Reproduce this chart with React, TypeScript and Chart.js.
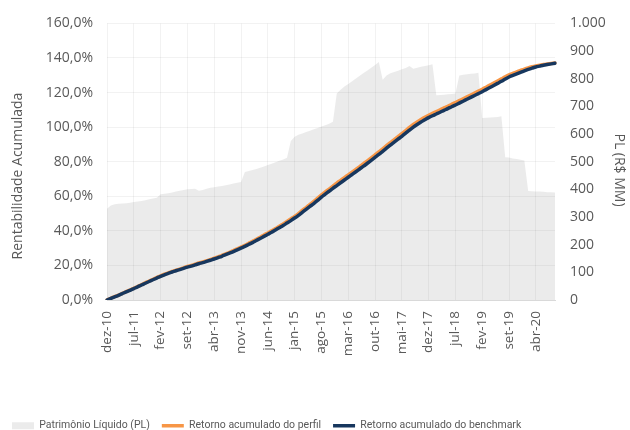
import { useEffect, useRef } from "react";
import { Chart, registerables } from "chart.js";

Chart.register(...registerables);

const MONTHS = ["jan", "fev", "mar", "abr", "mai", "jun", "jul", "ago", "set", "out", "nov", "dez"];

// Monthly categories: dez-10 ... set-20
const categories: string[] = [];
for (let i = 0; i < 118; i++) {
  const k = 11 + i;
  categories.push(`${MONTHS[k % 12]}-${String(10 + Math.floor(k / 12)).padStart(2, "0")}`);
}

// Patrimônio Líquido (R$ MM)
const plValues = [
  330, 342, 346, 348, 349, 350, 352, 354, 356, 358,
  361, 364, 367, 370, 382, 384, 386, 389, 392, 395,
  398, 400, 401, 402, 395, 398, 402, 406, 408, 410,
  412, 415, 418, 421, 424, 427, 463, 466, 470, 474,
  478, 483, 488, 493, 498, 503, 508, 514, 575, 590,
  597, 602, 607, 612, 617, 622, 627, 632, 637, 644,
  747, 760, 772, 781, 791, 801, 811, 821, 830, 840,
  850, 860, 796, 812, 820, 824, 829, 834, 839, 846,
  836, 840, 843, 846, 849, 852, 740, 741, 742, 744,
  745, 747, 812, 814, 816, 818, 819, 822, 658, 659,
  660, 661, 662, 664, 516, 515, 512, 510, 507, 504,
  394, 393, 392, 392, 391, 390, 390, 389,
];

// Retorno acumulado do perfil (%)
const perfilValues = [
  0, 1.0, 1.9, 2.8, 3.8, 4.8, 5.8, 6.8,
  7.8, 8.9, 9.9, 11.0, 12.0, 13.0, 14.0,
  14.9, 15.7, 16.5, 17.2, 17.9, 18.6, 19.4,
  20.0, 20.7, 21.4, 22.0, 22.7, 23.4, 24.2,
  25.0, 25.8, 26.7, 27.6, 28.6, 29.6, 30.6,
  31.6, 32.8, 33.9, 35.1, 36.3, 37.6, 38.8,
  40.0, 41.3, 42.7, 44.0, 45.4, 46.9, 48.4,
  50.0, 51.8, 53.5, 55.3, 57.0, 58.9, 60.8,
  62.5, 64.2, 65.9, 67.6, 69.2, 70.8, 72.4,
  74.0, 75.6, 77.2, 78.9, 80.5, 82.2, 84.0,
  85.7, 87.5, 89.3, 91.1, 92.8, 94.5, 96.2,
  98.0, 99.8, 101.5, 103.0, 104.4, 105.7, 106.9,
  108.0, 109.0, 110.0, 111.1, 112.1, 113.2, 114.2,
  115.3, 116.4, 117.5, 118.6, 119.7, 120.8, 121.9,
  123.1, 124.3, 125.5, 126.7, 127.9, 129.1, 130.2,
  131.1, 132.0, 132.8, 133.6, 134.3, 134.9, 135.4,
  135.8, 136.2, 136.5, 136.8, 137.1,
];

// Retorno acumulado do benchmark (%)
const benchmarkValues = [
  0, 0.9, 1.8, 2.7, 3.7, 4.7, 5.6, 6.6,
  7.6, 8.7, 9.7, 10.7, 11.7, 12.7, 13.7,
  14.6, 15.4, 16.2, 16.9, 17.6, 18.3, 19.0,
  19.6, 20.3, 21.0, 21.6, 22.3, 23.0, 23.7,
  24.5, 25.3, 26.2, 27.1, 28.0, 29.0, 30.0,
  31.0, 32.1, 33.2, 34.4, 35.6, 36.8, 38.0,
  39.2, 40.5, 41.8, 43.1, 44.5, 45.9, 47.4,
  49.0, 50.7, 52.4, 54.1, 55.8, 57.6, 59.5,
  61.2, 62.9, 64.6, 66.2, 67.8, 69.4, 71.0,
  72.6, 74.2, 75.8, 77.4, 79.1, 80.8, 82.5,
  84.2, 86.0, 87.8, 89.6, 91.3, 93.0, 94.7,
  96.5, 98.3, 100.0, 101.5, 102.9, 104.2, 105.5,
  106.6, 107.6, 108.6, 109.7, 110.7, 111.8, 112.8,
  113.9, 115.0, 116.1, 117.2, 118.3, 119.4, 120.5,
  121.7, 122.9, 124.1, 125.3, 126.5, 127.8, 129.0,
  129.9, 130.8, 131.7, 132.6, 133.4, 134.1, 134.8,
  135.3, 135.8, 136.2, 136.6, 137.0,
];

const LABEL_STEP = 7;
const TEXT = "#595959";
const TICK_FONT = "'Open Sans', sans-serif";
const PAD_BOTTOM = -11;

const axisTitles = {
  id: "axisTitles",
  afterDraw(chart: any) {
    const ctx = chart.ctx;
    ctx.save();
    ctx.fillStyle = TEXT;
    ctx.font = `14px ${TICK_FONT}`;
    ctx.textAlign = "center";
    ctx.textBaseline = "alphabetic";
    ctx.translate(22, 176);
    ctx.rotate(-Math.PI / 2);
    ctx.fillText("Rentabilidade Acumulada", 0, 0);
    ctx.restore();
    ctx.save();
    ctx.fillStyle = TEXT;
    ctx.font = `14px ${TICK_FONT}`;
    ctx.textAlign = "center";
    ctx.textBaseline = "alphabetic";
    ctx.translate(615, 170);
    ctx.rotate(Math.PI / 2);
    ctx.fillText("PL (R$ MM)", 0, 0);
    ctx.restore();
  },
};

export default function App() {
  const ref = useRef<HTMLCanvasElement | null>(null);
  useEffect(() => {
    if (!ref.current) return;
    const chart = new Chart(ref.current, {
      type: "line",
      data: {
        labels: categories,
        datasets: [
          {
            label: "Patrimônio Líquido (PL)",
            data: plValues,
            yAxisID: "y1",
            fill: "origin",
            backgroundColor: "rgba(0,0,0,0.08)",
            borderColor: "rgba(0,0,0,0)",
            borderWidth: 0,
            pointRadius: 0,
            pointStyle: "rect",
            tension: 0,
            order: 3,
          },
          {
            label: "Retorno acumulado do perfil",
            data: perfilValues,
            yAxisID: "y",
            borderColor: "#F79646",
            backgroundColor: "#F79646",
            borderWidth: 3.5,
            borderCapStyle: "round",
            borderJoinStyle: "round",
            pointRadius: 0,
            pointStyle: "line",
            fill: false,
            cubicInterpolationMode: "monotone",
            order: 2,
          },
          {
            label: "Retorno acumulado do benchmark",
            data: benchmarkValues,
            yAxisID: "y",
            borderColor: "#17375E",
            backgroundColor: "#17375E",
            borderWidth: 3.5,
            borderCapStyle: "round",
            borderJoinStyle: "round",
            pointRadius: 0,
            pointStyle: "line",
            fill: false,
            cubicInterpolationMode: "monotone",
            order: 1,
          },
        ],
      },
      options: {
        animation: false,
        responsive: false,
        layout: { padding: { top: 19, left: 0, right: 0, bottom: PAD_BOTTOM } },
        plugins: {
          tooltip: { enabled: false },
          legend: {
            position: "bottom",
            align: "start",
            labels: {
              usePointStyle: true,
              pointStyleWidth: 22,
              boxHeight: 7,
              padding: 12,
              color: TEXT,
              font: { family: "Roboto, sans-serif", size: 10.5 },
              sort: (a: any, b: any) => a.datasetIndex - b.datasetIndex,
            },
          },
        },
        scales: {
          x: {
            grid: { color: "rgba(0,0,0,0.05)", drawTicks: false },
            border: { display: true, color: "#d9d9d9", width: 1 },
            ticks: {
              autoSkip: false,
              minRotation: 90,
              maxRotation: 90,
              padding: 11,
              color: TEXT,
              font: { family: TICK_FONT, size: 13.5 },
              callback: (_v: any, i: number) => (i % LABEL_STEP === 0 ? categories[i] : null),
            },
            afterFit: (scale: any) => {
              const lh = scale.chart.legend ? scale.chart.legend.height : 0;
              scale.height = 430 - PAD_BOTTOM - lh - 300;
            },
          },
          y: {
            position: "left",
            min: 0,
            max: 160,
            grid: { color: "rgba(0,0,0,0.05)", drawTicks: false },
            border: { display: false },
            ticks: {
              stepSize: 20,
              padding: 14,
              color: TEXT,
              font: { family: TICK_FONT, size: 14 },
              callback: (v: any) => Number(v).toFixed(1).replace(".", ",") + "%",
            },
            afterFit: (scale: any) => {
              scale.width = 107;
            },
          },
          y1: {
            position: "right",
            min: 0,
            max: 1000,
            grid: { drawOnChartArea: false, drawTicks: false },
            border: { display: false },
            ticks: {
              stepSize: 100,
              padding: 15,
              color: TEXT,
              font: { family: TICK_FONT, size: 14 },
              callback: (v: any) => (Number(v) >= 1000 ? "1.000" : String(v)),
            },
            afterFit: (scale: any) => {
              scale.width = 75;
            },
          },
        },
      },
      plugins: [axisTitles],
    } as any);
    return () => chart.destroy();
  }, []);

  return (
    <div style={{ position: "absolute", left: 0, top: 0, width: 630, height: 430, background: "#fff" }}>
      <canvas ref={ref} width={630} height={430} style={{ display: "block" }} />
    </div>
  );
}
